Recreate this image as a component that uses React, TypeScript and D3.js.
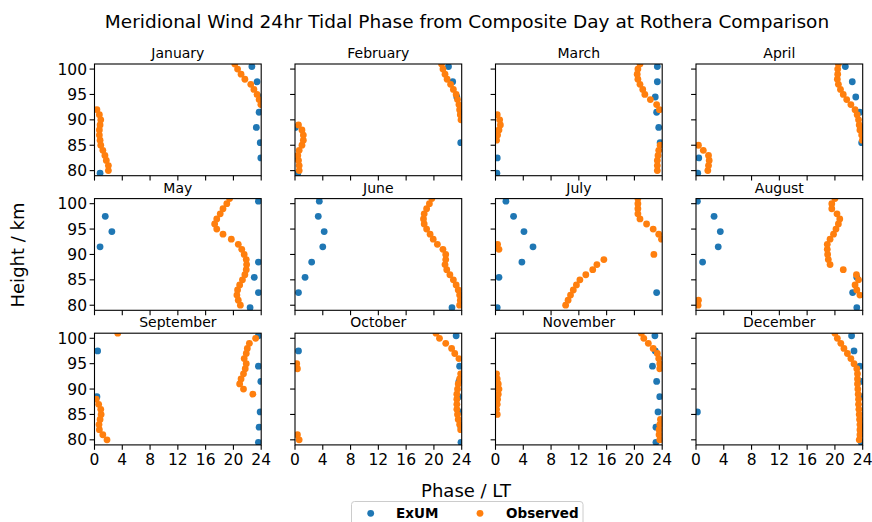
import React from "react";
import * as d3 from "d3";

const months = [
  "January", "February", "March", "April", "May", "June",
  "July", "August", "September", "October", "November", "December",
];

// model heights (km) and observed heights (km)
const exumHeights = [79.5, 82.5, 85.5, 88.5, 91.5, 94.5, 97.5, 100.5];
const obsHeights = d3.range(80, 102);

// phases (LT hours), one row per month
const exumPhase = [
  [0.8, 23.95, 23.86, 23.3, 23.7, 23.9, 23.4, 22.66],
  [0.4, 0.05, 23.86, 0.05, 23.9, 23.3, 22.7, 22.1],
  [0.2, 0.25, 23.7, 23.5, 23.2, 23.0, 23.3, 23.3],
  [0.25, 0.4, 23.85, 23.8, 23.6, 23.0, 22.5, 21.5],
  [22.4, 23.6, 23.0, 23.6, 0.8, 2.5, 1.55, 23.6],
  [22.6, 0.5, 1.45, 2.4, 4.0, 4.2, 3.35, 3.5],
  [0.25, 23.2, 0.5, 3.8, 5.4, 4.1, 2.6, 1.5],
  [23.15, 22.55, 23.15, 0.95, 3.2, 3.5, 2.6, 0.2],
  [23.6, 23.7, 23.85, 0.35, 23.95, 23.6, 0.45, 23.6],
  [23.9, 23.9, 23.98, 23.6, 23.6, 23.7, 0.5, 23.2],
  [23.1, 23.1, 23.4, 23.65, 23.2, 22.6, 23.0, 22.95],
  [23.8, 23.8, 0.2, 23.85, 23.85, 23.6, 22.75, 22.4],
];

const obsPhase = [
  [2.0, 2.0, 1.7, 1.5, 1.2, 0.9, 0.8, 0.7, 0.7, 0.8, 0.9, 0.7, 0.35, 23.95, 23.7, 23.4, 22.95, 22.5, 21.65, 21.1, 20.6, 20.2],
  [0.6, 0.6, 0.5, 0.4, 0.6, 1.0, 1.2, 1.2, 1.0, 0.5, 23.9, 23.8, 23.7, 23.6, 23.4, 23.2, 22.8, 22.4, 21.9, 21.6, 21.3, 21.1],
  [23.3, 23.3, 23.3, 23.4, 23.5, 23.7, 0.15, 0.3, 0.5, 0.7, 0.6, 0.25, 23.6, 23.2, 22.3, 21.5, 21.2, 20.8, 20.5, 20.4, 20.5, 20.8],
  [1.7, 1.8, 1.9, 1.8, 1.05, 0.35, 23.95, 23.85, 23.6, 23.5, 23.4, 23.2, 22.9, 22.3, 21.7, 21.2, 20.8, 20.5, 20.35, 20.4, 20.4, 20.5],
  [21.0, 20.7, 20.5, 20.6, 20.9, 21.3, 21.65, 21.85, 21.9, 21.85, 21.55, 21.2, 20.7, 19.7, 18.5, 17.6, 17.3, 17.6, 18.1, 18.5, 19.05, 19.45],
  [23.7, 23.8, 23.7, 23.5, 23.2, 22.8, 22.3, 21.85, 21.6, 21.7, 21.7, 21.3, 20.5, 19.9, 19.45, 18.95, 18.6, 18.5, 18.6, 18.95, 19.35, 19.7],
  [10.1, 10.45, 10.8, 11.2, 11.65, 12.15, 13.0, 14.0, 14.6, 15.6, 22.8, 0.5, 0.3, 23.9, 23.5, 22.7, 21.75, 20.8, 20.5, 20.5, 20.5, 20.5],
  [0.3, 0.35, 23.6, 23.15, 22.9, 23.4, 23.1, 21.2, 19.3, 19.05, 18.95, 18.9, 18.9, 19.3, 19.8, 20.15, 20.5, 20.7, 20.3, 19.55, 19.55, 20.0],
  [1.8, 1.2, 0.7, 0.65, 0.8, 0.95, 0.9, 0.6, 0.25, 22.8, 21.45, 20.9, 21.1, 21.45, 21.7, 21.85, 21.55, 21.85, 22.0, 22.3, 23.2, 3.35],
  [0.6, 0.35, 23.85, 23.7, 23.5, 23.4, 23.3, 23.3, 23.3, 23.3, 23.4, 23.5, 23.7, 23.85, 0.35, 0.25, 23.6, 23.0, 22.55, 21.7, 20.8, 20.3],
  [23.65, 23.55, 23.55, 23.65, 23.75, 0.25, 0.15, 0.25, 0.3, 0.4, 0.5, 0.4, 0.25, 0.15, 23.65, 23.65, 23.5, 23.3, 22.7, 22.0, 21.35, 21.0],
  [23.5, 23.6, 23.6, 23.6, 23.55, 23.5, 23.45, 23.4, 23.4, 23.35, 23.3, 23.25, 23.25, 23.25, 23.15, 22.75, 22.3, 21.8, 21.3, 20.85, 20.35, 20.0],
];

const xTicks = [0, 4, 8, 12, 16, 20, 24];
const yTicks = [80, 85, 90, 95, 100];

const BLUE = "#1f77b4";
const ORANGE = "#ff7f0e";
const FONT = "DejaVu Sans";

const W = 872;
const H = 522;
const left0 = 94.5;
const colStep = 200.5;
const pw = 166.7;
const top0 = 64;
const rowStep = 134.6;
const ph = 111.7;

const x = d3.scaleLinear().domain([0, 24]).range([0, pw]);
const y = d3.scaleLinear().domain([79, 101]).range([ph, 0]);

const Panel = ({ i }: { i: number }) => {
  const col = i % 4;
  const row = Math.floor(i / 4);
  const tx = left0 + col * colStep;
  const ty = top0 + row * rowStep;
  const clipId = `clip-${i}`;
  return (
    <g transform={`translate(${tx},${ty})`}>
      <clipPath id={clipId}>
        <rect x={0} y={0} width={pw} height={ph} />
      </clipPath>
      <text x={pw / 2} y={-6} textAnchor="middle" fontSize={14} fontFamily={FONT} fill="#000">
        {months[i]}
      </text>
      <g clipPath={`url(#${clipId})`}>
        {exumHeights.map((h, k) => (
          <circle key={"e" + k} cx={x(exumPhase[i][k])} cy={y(h)} r={3.4} fill={BLUE} />
        ))}
        {obsHeights.map((h, k) => (
          <circle key={"o" + k} cx={x(obsPhase[i][k])} cy={y(h)} r={3.4} fill={ORANGE} />
        ))}
      </g>
      <rect x={0} y={0} width={pw} height={ph} fill="none" stroke="#000" strokeWidth={1.1} />
      {yTicks.map((t) => (
        <g key={"y" + t}>
          <line x1={-4.9} x2={0} y1={y(t)} y2={y(t)} stroke="#000" strokeWidth={1.1} />
          {col === 0 && (
            <text x={-7.5} y={y(t)} dy="0.36em" textAnchor="end" fontSize={15.5} fontFamily={FONT} fill="#000">
              {t}
            </text>
          )}
        </g>
      ))}
      {xTicks.map((t) => (
        <g key={"x" + t}>
          <line x1={x(t)} x2={x(t)} y1={ph} y2={ph + 4.9} stroke="#000" strokeWidth={1.1} />
          {row === 2 && (
            <text x={x(t)} y={ph + 20.5} textAnchor="middle" fontSize={15.5} fontFamily={FONT} fill="#000">
              {t}
            </text>
          )}
        </g>
      ))}
    </g>
  );
};

export default function App() {
  return (
    <svg
      width={W}
      height={H}
      style={{ position: "absolute", left: 0, top: 0, background: "#fff" }}
    >
      <rect width={W} height={H} fill="#fff" />
      <text x={467} y={28} textAnchor="middle" fontSize={18.5} fontFamily={FONT} fill="#000">
        Meridional Wind 24hr Tidal Phase from Composite Day at Rothera Comparison
      </text>
      {months.map((m, i) => (
        <Panel key={m} i={i} />
      ))}
      <text
        transform="translate(24,255) rotate(-90)"
        textAnchor="middle"
        fontSize={18}
        fontFamily={FONT}
        fill="#000"
      >
        Height / km
      </text>
      <text x={466} y={497} textAnchor="middle" fontSize={18} fontFamily={FONT} fill="#000">
        Phase / LT
      </text>
      <g>
        <rect x={351.5} y={501.5} width={231.5} height={30} rx={3} fill="#fff" stroke="#cccccc" strokeWidth={1} />
        <circle cx={370.7} cy={513.3} r={3.4} fill={BLUE} />
        <text x={396} y={513.3} dy="0.36em" fontSize={13.5} fontWeight="bold" fontFamily={FONT} fill="#000">
          ExUM
        </text>
        <circle cx={480} cy={513.3} r={3.4} fill={ORANGE} />
        <text x={506} y={513.3} dy="0.36em" fontSize={13.5} fontWeight="bold" fontFamily={FONT} fill="#000">
          Observed
        </text>
      </g>
    </svg>
  );
}
